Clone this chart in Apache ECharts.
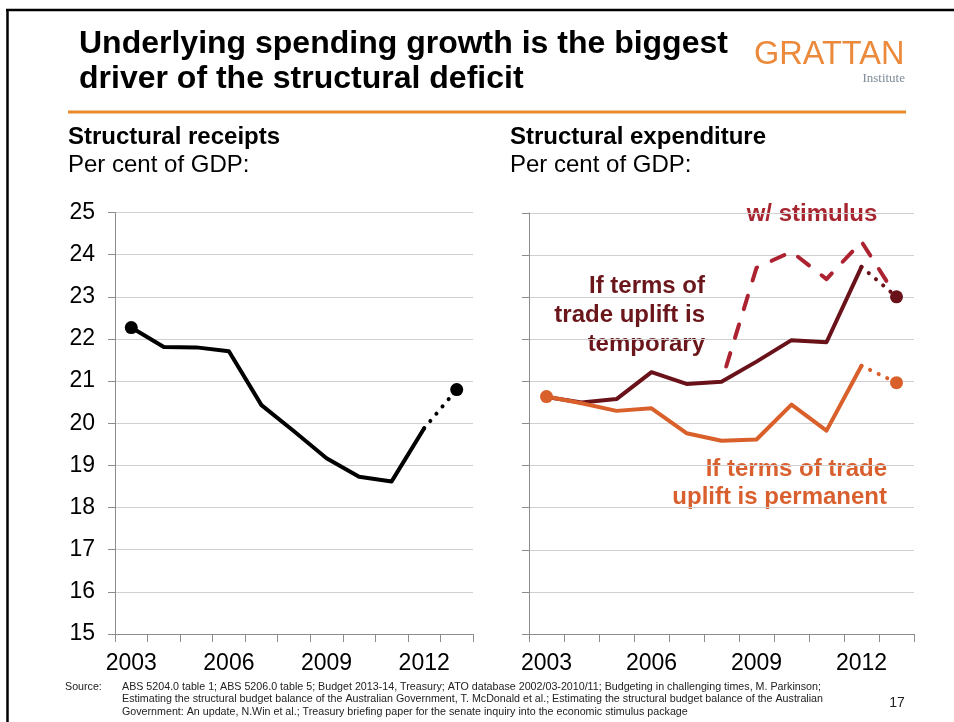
<!DOCTYPE html>
<html>
<head>
<meta charset="utf-8">
<script src="https://cdn.jsdelivr.net/npm/echarts@6/dist/echarts.min.js"></script>
<style>
	html, body { margin: 0; padding: 0; background: #fff; }
	#main { width: 954px; height: 722px; }
</style>
</head>
<body>
<div id="main"></div>
<script>
// 数据
var years = ['2003', '2004', '2005', '2006', '2007', '2008', '2009', '2010', '2011', '2012', '2013'];
var yearLabels = ['2003', '2006', '2009', '2012'];
var receipts = [22.27, 21.81, 21.80, 21.71, 20.43, 19.81, 19.17, 18.73, 18.62, 19.88, 20.80];
var expTemporary = [20.63, 20.50, 20.58, 21.22, 20.94, 20.99, 21.47, 21.98, 21.93, 23.72, 23.01];
var expPermanent = [20.64, 20.48, 20.30, 20.36, 19.77, 19.59, 19.62, 20.45, 19.83, 21.37, 20.97];
var expStimulus = [null, null, null, null, null, 20.99, 23.70, 24.08, 23.43, 24.32, 23.01];

var FONT = '"Liberation Sans", Arial, sans-serif';
var last = years.length - 1;

function solidPart(arr) {
	// 实线部分 (到2012)
	return arr.map(function(v, i) { return i <= last - 1 ? v : null; });
}
function dottedPart(arr) {
	// 虚点部分 (2012-2013)
	return arr.map(function(v, i) { return i >= last - 1 ? v : null; });
}
function ends(arr, both) {
	var d = [[years[last], arr[last]]];
	if (both) d.unshift([years[0], arr[0]]);
	return d;
}

function xAxisCfg(gridIndex) {
	return {
		type: 'category',
		gridIndex: gridIndex,
		data: years,
		boundaryGap: true,
		axisLine: { lineStyle: { color: '#8c8c8c', width: 1 } },
		axisTick: { show: true, interval: 0, length: 8, lineStyle: { color: '#8c8c8c' } },
		axisLabel: {
			interval: 0,
			margin: 18,
			fontFamily: FONT,
			fontSize: 23,
			color: '#000',
			formatter: function(v) { return yearLabels.indexOf(v) >= 0 ? v : ''; }
		},
		splitLine: { show: false }
	};
}
function yAxisCfg(gridIndex, showLabel) {
	return {
		type: 'value',
		gridIndex: gridIndex,
		min: 15,
		max: 25,
		interval: 1,
		axisLine: { show: true, lineStyle: { color: '#8c8c8c', width: 1 } },
		axisTick: { show: true, length: 7, lineStyle: { color: '#8c8c8c' } },
		axisLabel: { show: showLabel, margin: 20, fontFamily: FONT, fontSize: 23, color: '#000' },
		splitLine: { show: true, lineStyle: { color: '#d0d0d0', width: 1 } }
	};
}
function lineSeries(name, xi, data, color, width, dash) {
	var ls = { color: color, width: width, cap: 'round', join: 'round' };
	if (dash) {
		ls.type = dash;
	}
	return {
		name: name,
		type: 'line',
		xAxisIndex: xi,
		yAxisIndex: xi,
		data: data,
		showSymbol: false,
		symbol: 'none',
		connectNulls: false,
		lineStyle: ls,
		itemStyle: { color: color },
		silent: true
	};
}
function dotSeries(xi, data, color) {
	return {
		type: 'scatter',
		xAxisIndex: xi,
		yAxisIndex: xi,
		data: data,
		symbolSize: 13,
		itemStyle: { color: color, opacity: 1 },
		silent: true,
		z: 5
	};
}
function txt(text, x, y, size, color, bold, align, family) {
	return {
		type: 'text',
		silent: true,
		style: {
			text: text,
			x: x,
			y: y,
			font: (bold ? 'bold ' : '') + size + 'px ' + (family || FONT),
			fill: color,
			textAlign: align || 'left',
			textVerticalAlign: 'middle'
		}
	};
}

var cBlack = '#000000';
var cDark = '#6a1219';
var cOrange = '#d95f2b';
var cStim = '#ad2230';
var dotDash = [0.1, 9.4];

var chart = echarts.init(document.getElementById('main'), null, { renderer: 'canvas' });
chart.setOption({
	animation: false,
	backgroundColor: '#fff',
	grid: [
		{ left: 115, top: 212.5, width: 358, height: 421.5 },
		{ left: 529, top: 213, width: 385, height: 421 }
	],
	xAxis: [xAxisCfg(0), xAxisCfg(1)],
	yAxis: [yAxisCfg(0, true), yAxisCfg(1, false)],
	series: [
		lineSeries('receipts', 0, solidPart(receipts), cBlack, 4),
		lineSeries('receipts dotted', 0, dottedPart(receipts), cBlack, 4, dotDash),
		dotSeries(0, ends(receipts, true), cBlack),

		(function() {
			var s = lineSeries('stimulus', 1, expStimulus, cStim, 4, [14, 16]);
			s.lineStyle.dashOffset = 14;
			return s;
		})(),
		lineSeries('temporary', 1, solidPart(expTemporary), cDark, 4),
		lineSeries('temporary dotted', 1, dottedPart(expTemporary), cDark, 4, dotDash),
		lineSeries('permanent', 1, solidPart(expPermanent), cOrange, 4),
		lineSeries('permanent dotted', 1, dottedPart(expPermanent), cOrange, 4, dotDash),
		dotSeries(1, ends(expTemporary, false), cDark),
		dotSeries(1, ends(expPermanent, true), cOrange)
	],
	graphic: [
		// 边框
		{ type: 'line', silent: true, shape: { x1: 6, y1: 10, x2: 954, y2: 10 }, style: { stroke: '#000', lineWidth: 2.5 } },
		{ type: 'line', silent: true, shape: { x1: 7.5, y1: 10, x2: 7.5, y2: 722 }, style: { stroke: '#000', lineWidth: 2.5 } },
		// 标题
		txt('Underlying spending growth is the biggest', 79, 44, 32, '#000', true),
		txt('driver of the structural deficit', 79, 79.5, 32, '#000', true),
		txt('GRATTAN', 754, 55.5, 32.5, '#ec8a3c', false),
		txt('Institute', 905, 79, 13, '#7d8b98', false, 'right', '"Liberation Serif", "DejaVu Serif", serif'),
		{ type: 'line', silent: true, shape: { x1: 68, y1: 112, x2: 906, y2: 112 }, style: { stroke: '#e8892b', lineWidth: 3 } },
		// 小标题
		txt('Structural receipts', 68, 137.5, 24, '#000', true),
		txt('Per cent of GDP:', 68, 165, 24, '#000', false),
		txt('Structural expenditure', 510, 137.5, 24, '#000', true),
		txt('Per cent of GDP:', 510, 165, 24, '#000', false),
		// 注释
		txt('w/ stimulus', 812, 214, 24, '#a6252f', true, 'center'),
		txt('If terms of', 705, 286, 24, '#6b161b', true, 'right'),
		txt('trade uplift is', 705, 315.5, 24, '#6b161b', true, 'right'),
		txt('temporary', 705, 344.5, 24, '#6b161b', true, 'right'),
		txt('If terms of trade', 887, 469.5, 24, '#d9602e', true, 'right'),
		txt('uplift is permanent', 887, 497.5, 24, '#d9602e', true, 'right'),
		// 来源
		txt('Source:', 65, 687, 10.7, '#222', false),
		txt('ABS 5204.0 table 1; ABS 5206.0 table 5; Budget 2013-14, Treasury; ATO database 2002/03-2010/11; Budgeting in challenging times, M. Parkinson;', 122, 687, 10.7, '#222', false),
		txt('Estimating the structural budget balance of the Australian Government, T. McDonald et al.; Estimating the structural budget balance of the Australian', 122, 699.5, 10.7, '#222', false),
		txt('Government: An update, N.Win et al.; Treasury briefing paper for the senate inquiry into the economic stimulus package', 122, 712, 10.7, '#222', false),
		txt('17', 897, 703, 14, '#222', false, 'center')
	]
});
</script>
</body>
</html>
